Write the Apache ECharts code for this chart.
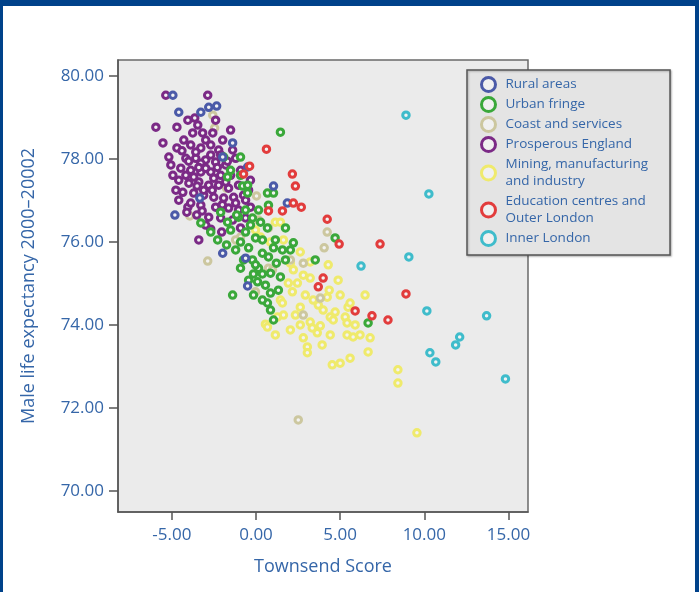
<!DOCTYPE html>
<html>
<head>
<meta charset="utf-8">
<script src="https://cdn.jsdelivr.net/npm/echarts@6/dist/echarts.min.js"></script>
<style>
  html, body { margin: 0; padding: 0; background: #fff; }
  #wrap { position: relative; width: 699px; height: 592px; overflow: hidden; }
  #chart { position: absolute; left: 0; top: 0; width: 699px; height: 592px; }
  #frame { position: absolute; left: 0; top: 0; width: 699px; height: 592px; box-sizing: border-box;
           border-top: 6px solid #00428a; border-left: 3px solid #00428a; border-right: 4px solid #00428a;
           pointer-events: none; }
</style>
</head>
<body>
<div id="wrap"><div id="chart"></div><div id="frame"></div></div>
<script>
// ---- Data: [Townsend score, male life expectancy] ----
const seriesNames = ["Rural areas", "Urban fringe", "Coast and services", "Prosperous England",
  "Mining, manufacturing\nand industry", "Education centres and\nOuter London", "Inner London"];

const rural = [[-4.94,79.54],[-4.59,79.13],[-3.28,79.13],[-2.81,79.25],[-2.34,79.28],[-1.39,78.39],
  [-1.98,78.05],[-0.50,77.81],[1.04,77.35],[-4.82,76.65],[-3.34,77.06],[-1.98,75.73],[1.86,76.94],
  [-0.50,74.94],[-0.62,75.61]];

const urban = [[1.45,78.65],[-1.92,78.05],[-0.92,78.05],[-1.51,77.73],[-0.92,77.61],[-1.69,77.57],
  [-0.80,77.35],[-0.50,77.37],[-0.50,77.18],[0.68,77.18],[1.04,77.18],[-3.28,76.46],[-2.10,76.72],
  [-0.62,76.77],[-1.69,76.48],[-1.04,76.60],[-0.21,76.58],[0.27,76.48],[0.68,76.34],[1.75,76.34],
  [-1.51,76.29],[-0.62,76.24],[-2.28,76.05],[-0.92,76.00],[-0.03,76.10],[-0.44,75.86],[0.38,75.73],
  [1.04,75.86],[2.22,75.98],[4.70,76.10],[-0.74,75.57],[-0.21,75.57],[0.74,75.64],[3.52,75.57],
  [-0.15,75.23],[0.38,75.23],[0.86,75.25],[1.45,75.16],[0.09,75.04],[0.56,74.96],[-0.15,74.72],
  [-1.39,74.72],[0.86,74.77],[0.68,74.53],[1.04,74.12],[6.66,74.05],[-1.21,75.81],[-2.69,76.24],
  [0.15,75.37],[1.21,75.49],[1.75,75.57],[2.04,75.81],
  [0.38,76.05],[-0.33,76.41],[-1.15,76.65],[-1.75,75.93],[-0.03,75.45],[1.15,76.05],[1.57,75.81],
  [-0.92,75.37],[0.86,74.36],[0.38,74.60],[-0.44,75.08],[1.33,74.84],[0.15,76.77],[0.74,76.89]];

const coast = [[-2.57,79.06],[-2.46,78.75],[-1.75,77.30],[-3.93,76.63],[-2.87,75.54],[0.03,77.11],
  [0.15,76.53],[0.74,76.34],[-0.92,76.12],[-1.21,76.05],[0.74,75.37],[2.04,75.57],[0.98,75.33],
  [2.81,75.49],[4.23,76.24],[4.05,75.86],[3.82,74.65],[2.81,74.24],[-0.03,74.80],[2.51,71.71]];

const prosperous = [[-5.36,79.54],[-2.87,79.54],[-3.64,78.99],[-5.95,78.77],[-4.70,78.77],[-5.53,78.39],
  [-4.70,78.27],[-5.18,78.05],[-4.05,76.84],[-3.40,76.05],[-2.69,76.31],[-2.04,76.24],[-0.33,76.84],
  [-1.21,78.02],[-2.57,78.63],[-4.29,78.46],[-3.76,78.63],[-3.17,78.63],[-3.88,78.34],[-3.28,78.27],
  [-2.69,78.34],[-2.22,78.22],[-4.17,78.02],[-3.58,78.02],[-2.99,77.98],[-2.40,77.93],[-1.80,77.86],
  [-4.47,77.78],[-3.88,77.73],[-3.28,77.69],[-2.69,77.69],[-2.10,77.61],[-1.51,77.61],[-4.59,77.49],
  [-3.99,77.42],[-3.40,77.45],[-2.81,77.37],[-2.22,77.37],[-1.63,77.30],[-1.04,77.37],[-4.35,77.20],
  [-3.70,77.18],[-3.11,77.13],[-2.51,77.08],[-1.92,77.06],[-1.33,77.08],[-0.74,77.13],[-3.88,76.94],
  [-3.28,76.89],[-2.40,76.84],[-1.63,76.82],[-1.04,76.77],[-3.52,76.65],[-2.81,76.60],[-2.10,76.58],
  [-1.39,76.53],[-0.62,76.58],[-2.99,76.41],[-0.92,76.34],[-0.44,77.25],[-0.92,77.73],[-1.39,78.22],
  [-4.94,77.61],[-4.76,77.25],[-5.06,77.86],[-1.98,78.46],[-1.51,78.70],[-2.40,78.94],[-4.05,78.94],
  [-4.11,76.72],[-4.59,77.01],[-2.69,78.10],[-3.28,77.90],[-2.10,78.10],[-3.70,77.57],[-3.11,77.25],
  [-2.51,77.54],[-1.80,77.45],[-1.21,76.94],[-0.62,77.01],[-0.33,77.49],[-2.99,78.46],[-3.46,78.82],
  [-3.58,78.17],[-4.17,77.61],[-2.99,77.78],[-3.40,77.80],[-2.60,77.25],[-3.50,77.35],[-4.00,77.95],
  [-2.30,77.80],[-3.20,76.75],[-2.00,76.90],[-1.70,77.95],[-4.40,78.20]];

const mining = [[-0.03,76.29],[0.27,76.12],[1.15,76.48],[1.45,76.48],[1.63,76.05],[2.63,75.76],
  [2.04,75.49],[2.22,75.33],[2.81,75.20],[3.22,75.13],[2.16,74.80],[2.46,75.01],[1.45,74.60],
  [1.57,74.53],[1.63,74.24],[1.27,74.19],[2.34,74.24],[2.63,74.43],[3.40,74.60],[3.99,74.36],
  [4.23,74.67],[4.35,74.84],[4.29,75.45],[5.47,74.43],[5.59,74.53],[6.48,74.72],[0.56,74.02],
  [0.68,73.95],[3.22,74.07],[3.64,73.81],[3.93,73.52],[3.05,73.47],[3.05,73.33],[2.81,73.69],
  [3.34,73.93],[3.82,73.98],[4.41,74.19],[4.59,74.12],[4.70,74.31],[5.30,74.19],[5.41,74.05],
  [4.41,73.76],[5.41,73.76],[5.77,73.71],[6.18,73.76],[6.78,73.69],[6.66,73.35],[5.59,73.20],
  [5.00,73.08],[4.53,73.04],[8.43,72.92],[8.43,72.60],[9.56,71.40],
  [1.92,75.01],[2.93,74.72],[3.70,74.48],[5.00,74.72],[5.89,74.00],[2.04,73.88],[1.15,73.76],
  [2.63,74.00],[0.86,76.00],[3.22,75.52],[4.88,75.08]];

const education = [[0.62,78.24],[-0.38,77.83],[-0.74,77.64],[2.16,77.64],[2.34,77.35],[2.22,76.94],
  [2.69,76.84],[0.74,76.75],[1.57,76.75],[4.23,76.55],[4.94,75.95],[7.37,75.95],[3.99,75.13],
  [3.70,74.92],[5.89,74.34],[6.89,74.22],[7.84,74.12],[8.91,74.75]];

const innerLondon = [[8.91,79.06],[10.27,77.16],[9.08,75.64],[6.24,75.42],[10.15,74.34],[13.70,74.22],
  [10.33,73.33],[10.68,73.11],[12.10,73.71],[11.86,73.52],[14.82,72.70]];

const xTicks = [-5, 0, 5, 10, 15];
const yTicks = [70, 72, 74, 76, 78, 80];

const colors = ["#4b5aa8", "#3aa83a", "#ccc79f", "#7b2a86", "#efea6c", "#e23c3c", "#3fbccb"];
const datasets = [rural, urban, coast, prosperous, mining, education, innerLondon];
// drawing order (bottom to top)
const drawOrder = [4, 2, 3, 1, 0, 5, 6];

const textBlue = "#3566a8";
const font = "Open Sans";

const series = drawOrder.map(i => ({
  name: seriesNames[i],
  type: "scatter",
  symbol: "circle",
  symbolSize: 6.5,
  data: datasets[i],
  itemStyle: { color: "#f3f3f3", borderColor: colors[i], borderWidth: 3, opacity: 1 },
  emphasis: { disabled: true }
}));

const chart = echarts.init(document.getElementById("chart"), null, { renderer: "canvas" });
chart.setOption({
  animation: false,
  backgroundColor: "#ffffff",
  grid: { left: 118, top: 60, width: 410, height: 452, show: true,
          backgroundColor: "#ebebeb", borderColor: "#6a6a6a", borderWidth: 1.5 },
  xAxis: {
    type: "value", min: -8.2, max: 16.16,
    name: "Townsend Score", nameLocation: "middle", nameGap: 46,
    nameTextStyle: { color: textBlue, fontSize: 18, fontFamily: font },
    axisLine: { show: true, onZero: false, lineStyle: { color: "#555", width: 1.5 } },
    axisTick: { show: true, length: 8, customValues: xTicks, lineStyle: { color: "#555", width: 1.5 } },
    axisLabel: { customValues: xTicks, formatter: v => v.toFixed(2), color: textBlue,
                 fontSize: 17, fontFamily: font, margin: 15 },
    splitLine: { show: false }
  },
  yAxis: {
    type: "value", min: 69.49, max: 80.39,
    name: "Male life expectancy 2000\u201320002", nameLocation: "middle", nameGap: 80,
    nameTextStyle: { color: textBlue, fontSize: 18, fontFamily: font },
    axisLine: { show: true, onZero: false, lineStyle: { color: "#555", width: 1.5 } },
    axisTick: { show: true, length: 9, customValues: yTicks, lineStyle: { color: "#555", width: 1.5 } },
    axisLabel: { customValues: yTicks, formatter: v => v.toFixed(2), color: textBlue,
                 fontSize: 17, fontFamily: font, margin: 14 },
    splitLine: { show: false }
  },
  legend: {
    data: seriesNames,
    orient: "vertical",
    left: 467, top: 70,
    padding: [6, 22, 8, 13],
    itemWidth: 14, itemHeight: 14, itemGap: 3,
    icon: "circle",
    itemStyle: { color: "#f0f0f0", borderColor: "inherit", borderWidth: 3 },
    backgroundColor: "#e4e4e4",
    borderColor: "#555", borderWidth: 1.5,
    shadowColor: "rgba(0,0,0,0.25)", shadowBlur: 2, shadowOffsetX: 1, shadowOffsetY: 1,
    textStyle: { color: textBlue, fontSize: 13.5, fontFamily: font, lineHeight: 17, padding: [0, 0, 0, 5] },
    selectedMode: false
  },
  series: series
});
</script>
</body>
</html>
